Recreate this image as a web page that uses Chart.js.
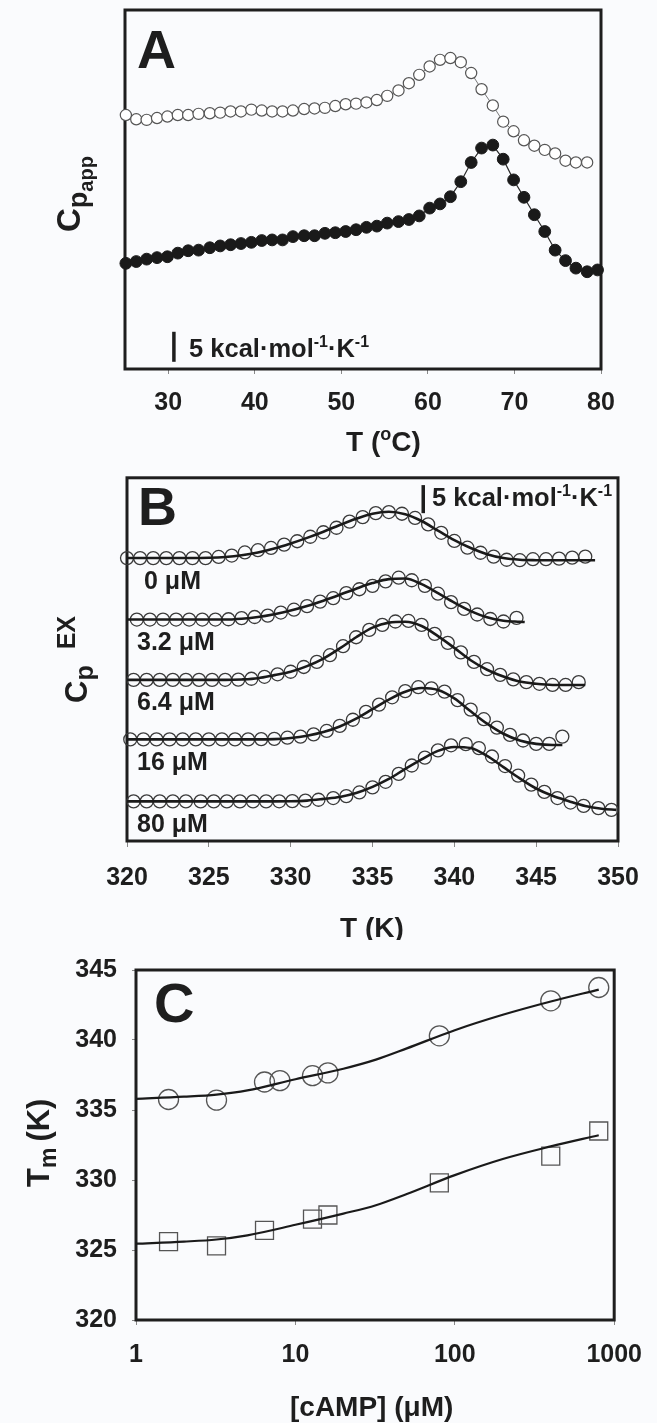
<!DOCTYPE html>
<html><head><meta charset="utf-8">
<script src="https://cdn.jsdelivr.net/npm/chart.js@4.4.1/dist/chart.umd.min.js"></script>
<style>
html,body{margin:0;padding:0;background:#fafbfd;}
body{width:657px;height:1423px;position:relative;overflow:hidden;}
canvas{position:absolute;left:0;}
</style></head><body>
<canvas id="cA" width="657" height="470" style="top:0px"></canvas>
<canvas id="cB" width="657" height="470" style="top:470px"></canvas>
<canvas id="cC" width="657" height="483" style="top:940px"></canvas>
<script>
// ---------------- Panel A : apparent Cp vs T (°C) ----------------
const ticksA = [30, 40, 50, 60, 70, 80];
const tempA_open = [25.1,26.3,27.5,28.7,29.9,31.1,32.3,33.5,34.8,36.0,37.2,38.4,39.6,40.8,42.0,43.2,44.4,45.7,46.9,48.1,49.3,50.5,51.7,52.9,54.1,55.3,56.6,57.8,59.0,60.2,61.4,62.6,63.8,65.0,66.2,67.5,68.7,69.9,71.1,72.3,73.5,74.7,75.9,77.1,78.4];
const cpA_open = [42.3,41.6,41.5,41.8,42.05,42.3,42.3,42.5,42.6,42.7,42.9,42.9,43.2,43.05,42.9,42.9,43.05,43.3,43.4,43.5,43.8,44.1,44.2,44.4,44.8,45.5,46.4,47.6,49.0,50.4,51.5,51.8,51.1,49.3,46.6,43.9,41.2,39.6,38.1,37.2,36.5,35.9,34.7,34.4,34.4];
const tempA_filled = [25.1,26.3,27.5,28.7,29.9,31.1,32.3,33.5,34.8,36.0,37.2,38.4,39.6,40.8,42.0,43.2,44.4,45.7,46.9,48.1,49.3,50.5,51.7,52.9,54.1,55.3,56.6,57.8,59.0,60.2,61.4,62.6,63.8,65.0,66.2,67.5,68.7,69.9,71.1,72.3,73.5,74.7,75.9,77.1,78.4,79.6];
const cpA_filled = [17.6,17.9,18.3,18.55,18.7,19.3,19.7,19.8,20.2,20.5,20.7,20.9,21.1,21.4,21.5,21.5,22.05,22.2,22.2,22.6,22.7,22.9,23.2,23.6,23.8,24.3,24.55,24.9,25.5,26.8,27.5,28.7,31.2,34.4,36.8,37.3,34.95,31.5,28.6,25.7,22.9,19.8,18.05,16.8,16.2,16.5];
const scaleBarA = {t: 30.65, v0: 1.2, len: 5};

// ---------------- Panel B : excess Cp vs T (K) ----------------
const ticksB = [320, 325, 330, 335, 340, 345, 350];
const concLabelsB = ["0 \u03bcM", "3.2 \u03bcM", "6.4 \u03bcM", "16 \u03bcM", "80 \u03bcM"];
const rowOffsetB = [50.4, 39.45, 28.7, 18.1, 7.05];
const tB_0 = [320.0,320.8,321.6,322.4,323.2,324.0,324.8,325.6,326.4,327.2,328.0,328.8,329.6,330.4,331.2,332.0,332.8,333.6,334.4,335.2,336.0,336.8,337.6,338.4,339.2,340.0,340.8,341.6,342.4,343.2,344.0,344.8,345.6,346.4,347.2,348.0];
const cpB_0 = [0,0,0,0,0,0,0,0.2,0.45,1.0,1.4,1.8,2.4,3.0,3.8,4.6,5.4,6.5,7.3,8.0,8.2,7.9,7.15,6.0,4.5,3.05,1.85,0.95,0.25,-0.3,-0.38,-0.2,-0.2,-0.1,0.08,0.26];
const fitT_0 = [320,321,322,323,324,325,326,327,328,329,330,331,332,333,334,335,336,337,338,339,340,341,342,343,344,345,346,347,348,348.6];
const fitB_0 = [0,0,0,0,0.02,0.06,0.2,0.5,1.0,1.7,2.6,3.6,4.7,5.9,7.0,7.9,8.25,7.8,6.6,4.9,3.2,1.8,0.7,0.0,-0.3,-0.38,-0.4,-0.4,-0.4,-0.4];
const tB_32 = [320.6,321.4,322.2,323.0,323.8,324.6,325.4,326.2,327.0,327.8,328.6,329.4,330.2,331.0,331.8,332.6,333.4,334.2,335.0,335.8,336.6,337.4,338.2,339.0,339.8,340.6,341.4,342.2,343.0,343.8];
const cpB_32 = [0,0,0,0,0,0,0,0.05,0.25,0.45,0.7,1.25,1.75,2.4,3.2,3.8,4.7,5.4,6.0,6.8,7.45,7.0,6.0,4.6,3.1,1.9,0.9,0.1,-0.35,0.3];
const fitT_32 = [320,321,322,323,324,325,326,327,328,329,330,331,332,333,334,335,336,337,338,339,340,341,342,343,344,344.3];
const fitB_32 = [0,0,0,0,0,0,0,0.15,0.45,0.95,1.6,2.4,3.35,4.4,5.5,6.5,7.2,7.3,6.3,4.7,3.0,1.5,0.4,-0.2,-0.4,-0.45];
const tB_64 = [320.4,321.2,322.0,322.8,323.6,324.4,325.2,326.0,326.8,327.6,328.4,329.2,330.0,330.8,331.6,332.4,333.2,334.0,334.8,335.6,336.4,337.2,338.0,338.8,339.6,340.4,341.2,342.0,342.8,343.6,344.4,345.2,346.0,346.8,347.6];
const cpB_64 = [0,0,0,0,0,0,0,0.02,0.05,0.2,0.55,1.0,1.45,2.3,3.2,4.4,6.0,7.6,8.9,9.8,10.4,10.5,9.8,8.2,6.6,4.9,3.2,1.9,0.9,0.1,-0.4,-0.7,-0.9,-0.9,-0.4];
const fitT_64 = [320,321,322,323,324,325,326,327,328,329,330,331,332,333,334,335,336,337,338,339,340,341,342,343,344,345,346,347,348];
const fitB_64 = [0,0,0,0,0,0,0,0.08,0.3,0.85,1.45,2.45,3.8,5.6,7.6,9.3,10.2,10.35,9.6,7.8,5.7,3.5,1.8,0.6,-0.3,-0.7,-0.9,-0.9,-0.9];
const tB_16 = [320.2,321.0,321.8,322.6,323.4,324.2,325.0,325.8,326.6,327.4,328.2,329.0,329.8,330.6,331.4,332.2,333.0,333.8,334.6,335.4,336.2,337.0,337.8,338.6,339.4,340.2,341.0,341.8,342.6,343.4,344.2,345.0,345.8,346.6];
const cpB_16 = [0,0,0,0,0,0,0,0,0,0,0.05,0.1,0.3,0.5,0.9,1.5,2.4,3.5,4.9,6.2,7.5,8.6,9.3,9.1,8.5,7.0,5.3,3.6,2.1,0.8,-0.2,-0.8,-0.8,0.5];
const fitT_16 = [320,321,322,323,324,325,326,327,328,329,330,331,332,333,334,335,336,337,338,339,340,341,342,343,344,345,346,346.6];
const fitB_16 = [0,0,0,0,0,0,0,0,0,0.05,0.25,0.65,1.3,2.3,3.7,5.4,7.1,8.5,9.15,8.8,7.3,5.0,2.8,1.0,-0.2,-0.8,-1.0,-1.0];
const tB_80 = [320.4,321.2,322.0,322.8,323.6,324.5,325.3,326.1,326.9,327.7,328.5,329.3,330.1,330.9,331.7,332.6,333.4,334.2,335.0,335.8,336.6,337.4,338.2,339.0,339.8,340.7,341.5,342.3,343.1,343.9,344.7,345.5,346.3,347.1,347.9,348.8,349.6];
const cpB_80 = [0,0,0,0,0,0,0,0,0,0,0,0.02,0.05,0.15,0.3,0.6,0.95,1.6,2.5,3.5,4.9,6.4,7.8,9.1,10.0,10.2,9.5,8.0,6.3,4.6,3.0,1.7,0.6,-0.2,-0.8,-1.2,-1.5];
const fitT_80 = [320,321,322,323,324,325,326,327,328,329,330,331,332,333,334,335,336,337,338,339,340,341,342,343,344,345,346,347,348,349,349.9];
const fitB_80 = [0,0,0,0,0,0,0,0,0,0,0.02,0.15,0.45,0.8,1.5,2.6,4.0,5.8,7.5,9.0,9.7,9.5,8.1,6.1,4.1,2.3,1.0,0.05,-0.8,-1.3,-1.5];
const scaleBarB = {t: 338.1, v0: 58.4, len: 5};

// ---------------- Panel C : Tm vs [cAMP] ----------------
const ticksC_x = [1, 10, 100, 1000];
const ticksC_y = [320, 325, 330, 335, 340, 345];
const campCirc = [1.6, 3.2, 6.4, 8, 12.8, 16, 80, 400, 800];
const tmCirc = [335.75, 335.7, 337.0, 337.1, 337.45, 337.65, 340.3, 342.8, 343.75];
const campSq = [1.6, 3.2, 6.4, 12.8, 16, 80, 400, 800];
const tmSq = [325.6, 325.3, 326.4, 327.2, 327.5, 329.8, 331.7, 333.5];
const fitCamp = [1, 2, 3.2, 5, 10, 20, 32, 50, 100, 200, 400, 800];
const fitCirc = [335.8, 335.95, 336.1, 336.4, 337.2, 337.95, 338.6, 339.4, 340.7, 341.8, 342.75, 343.6];
const fitSq = [325.45, 325.6, 325.75, 326.05, 326.8, 327.6, 328.2, 329.0, 330.35, 331.5, 332.4, 333.2];

// ---------------- helpers ----------------
const FONT = '"Liberation Sans", Arial, Helvetica, sans-serif';
const INK = '#1e1e1e';
Chart.defaults.font.family = FONT;
Chart.defaults.font.weight = 'bold';
Chart.defaults.font.size = 25;
Chart.defaults.color = INK;
Chart.defaults.animation = false;
Chart.defaults.responsive = false;
Chart.defaults.maintainAspectRatio = false;
Chart.defaults.devicePixelRatio = 1;
Chart.defaults.plugins.legend.display = false;
Chart.defaults.plugins.tooltip.enabled = false;

function pts(xs, ys, off) {
  const n = Math.min(xs.length, ys.length);
  const out = [];
  for (let i = 0; i < n; i++) out.push({x: xs[i], y: ys[i] + (off || 0)});
  return out;
}
function rich(ctx, parts, x, y) {
  let cx = x;
  for (const p of parts) {
    ctx.font = 'bold ' + p.size + 'px ' + FONT;
    ctx.fillText(p.t, cx, y + (p.dy || 0));
    cx += ctx.measureText(p.t).width + (p.gap || 0);
  }
  return cx - x;
}
const framePlugin = {
  id: 'frame',
  beforeDatasetsDraw(chart) {
    const a = chart.chartArea, ctx = chart.ctx;
    ctx.save();
    ctx.strokeStyle = INK; ctx.lineWidth = 3;
    ctx.strokeRect(a.left, a.top, a.right - a.left, a.bottom - a.top);
    ctx.restore();
  }
};
function setTicks(list) { return s => { s.ticks = list.map(v => ({value: v})); }; }
const tickGrid = len => ({drawOnChartArea: false, drawTicks: true, tickLength: len, color: '#888', lineWidth: 1});
const unitParts = [{t: '5 kcal\u00b7mol', size: 25.5}, {t: '-1', size: 16, dy: -10}, {t: '\u00b7K', size: 25.5}, {t: '-1', size: 16, dy: -10}];

// ---------------- Chart A ----------------
new Chart(document.getElementById('cA'), {
  type: 'line',
  data: { datasets: [
    { data: pts(tempA_filled, cpA_filled), borderColor: '#2a2a2a', borderWidth: 1.2, pointRadius: 5.9,
      pointBackgroundColor: '#1a1a1a', pointBorderColor: '#1a1a1a', pointBorderWidth: 1, clip: false },
    { data: pts(tempA_open, cpA_open), borderColor: '#777', borderWidth: 1, pointRadius: 5.6,
      pointBackgroundColor: '#fff', pointBorderColor: '#555', pointBorderWidth: 1.2, clip: false }
  ]},
  options: {
    layout: { padding: { left: 125, right: 56, top: 10, bottom: 0 } },
    scales: {
      x: { type: 'linear', min: 25, max: 80, afterBuildTicks: setTicks(ticksA),
           ticks: { padding: 14 }, grid: tickGrid(5), border: { display: false },
           afterFit: s => { s.height = 101; } },
      y: { type: 'linear', display: false, min: 0, max: 59.8 }
    }
  },
  plugins: [framePlugin, {
    id: 'annA',
    afterDraw(chart) {
      const ctx = chart.ctx, xs = chart.scales.x, ys = chart.scales.y;
      ctx.save(); ctx.fillStyle = INK; ctx.strokeStyle = INK; ctx.textBaseline = 'alphabetic';
      ctx.font = 'bold 54px ' + FONT; ctx.fillText('A', 137, 68);
      const bx = xs.getPixelForValue(scaleBarA.t);
      ctx.lineWidth = 3.5; ctx.beginPath();
      ctx.moveTo(bx, ys.getPixelForValue(scaleBarA.v0));
      ctx.lineTo(bx, ys.getPixelForValue(scaleBarA.v0 + scaleBarA.len)); ctx.stroke();
      rich(ctx, unitParts, 189, 357);
      rich(ctx, [{t: 'T (', size: 28}, {t: 'o', size: 18, dy: -11}, {t: 'C)', size: 28}], 346, 451);
      ctx.translate(80, 232); ctx.rotate(-Math.PI / 2);
      rich(ctx, [{t: 'C', size: 33}, {t: 'p', size: 27, dy: 7}, {t: 'app', size: 20, dy: 13}], 0, 0);
      ctx.restore();
    }
  }]
});

// ---------------- Chart B ----------------
const rowsB = [
  [tB_0, cpB_0, fitT_0, fitB_0], [tB_32, cpB_32, fitT_32, fitB_32], [tB_64, cpB_64, fitT_64, fitB_64],
  [tB_16, cpB_16, fitT_16, fitB_16], [tB_80, cpB_80, fitT_80, fitB_80]
];
const dsB = [];
rowsB.forEach((r, i) => {
  dsB.push({ data: pts(r[2], r[3], rowOffsetB[i]), borderColor: '#1a1a1a', borderWidth: 2.6, pointRadius: 0,
             cubicInterpolationMode: 'monotone', clip: false, order: 0 });
});
rowsB.forEach((r, i) => {
  dsB.push({ data: pts(r[0], r[1], rowOffsetB[i]), showLine: false, pointRadius: 6.5, pointBorderWidth: 1.3,
             pointBorderColor: '#3a3a3a', pointBackgroundColor: 'rgba(0,0,0,0)', clip: false, order: 1 });
});
new Chart(document.getElementById('cB'), {
  type: 'line',
  data: { datasets: dsB },
  options: {
    layout: { padding: { left: 127, right: 39, top: 4, bottom: 0 } },
    scales: {
      x: { type: 'linear', min: 320, max: 350, afterBuildTicks: setTicks(ticksB),
           ticks: { padding: 16 }, grid: tickGrid(6), border: { display: false },
           afterFit: s => { s.height = 99; } },
      y: { type: 'linear', display: false, min: 0, max: 64.7 }
    }
  },
  plugins: [framePlugin, {
    id: 'annB',
    afterDraw(chart) {
      const ctx = chart.ctx, xs = chart.scales.x, ys = chart.scales.y;
      ctx.save(); ctx.fillStyle = INK; ctx.strokeStyle = INK; ctx.textBaseline = 'alphabetic';
      ctx.font = 'bold 54px ' + FONT; ctx.fillText('B', 138, 55);
      const bx = xs.getPixelForValue(scaleBarB.t);
      ctx.lineWidth = 3.5; ctx.beginPath();
      ctx.moveTo(bx, ys.getPixelForValue(scaleBarB.v0));
      ctx.lineTo(bx, ys.getPixelForValue(scaleBarB.v0 + scaleBarB.len)); ctx.stroke();
      rich(ctx, unitParts, 432, 36);
      concLabelsB.forEach((lab, i) => {
        const y = ys.getPixelForValue(rowOffsetB[i]) + 21.5 + 9;
        ctx.font = 'bold 25px ' + FONT;
        ctx.fillText(lab, i === 0 ? 144 : 137, y);
      });
      rich(ctx, [{t: 'T (K)', size: 28}], 340, 467);
      ctx.translate(87, 233); ctx.rotate(-Math.PI / 2);
      rich(ctx, [{t: 'C', size: 31}, {t: 'p', size: 25, dy: 6, gap: 16}, {t: 'EX', size: 25, dy: -12}], 0, 0);
      ctx.restore();
    }
  }]
});

// ---------------- Chart C ----------------
new Chart(document.getElementById('cC'), {
  type: 'line',
  data: { datasets: [
    { data: pts(fitCamp, fitCirc), borderColor: '#1a1a1a', borderWidth: 2.2, pointRadius: 0, cubicInterpolationMode: 'monotone', clip: false },
    { data: pts(fitCamp, fitSq), borderColor: '#1a1a1a', borderWidth: 2.2, pointRadius: 0, cubicInterpolationMode: 'monotone', clip: false },
    { data: pts(campCirc, tmCirc), showLine: false, pointStyle: 'circle', pointRadius: 10, pointBorderWidth: 1.3,
      pointBorderColor: '#555', pointBackgroundColor: 'rgba(0,0,0,0)', clip: false },
    { data: pts(campSq, tmSq), showLine: false, pointStyle: 'rect', pointRadius: 12.7, pointBorderWidth: 1.3,
      pointBorderColor: '#555', pointBackgroundColor: 'rgba(0,0,0,0)', clip: false }
  ]},
  options: {
    layout: { padding: { left: 0, right: 38, top: 17, bottom: 0 } },
    scales: {
      x: { type: 'logarithmic', min: 1, max: 1000, afterBuildTicks: setTicks(ticksC_x),
           ticks: { padding: 15, callback: v => String(v) }, grid: tickGrid(5), border: { display: false },
           afterFit: s => { s.height = 103; } },
      y: { type: 'linear', min: 320, max: 345, afterBuildTicks: setTicks(ticksC_y),
           ticks: { padding: 15 }, grid: tickGrid(4), border: { display: false },
           afterFit: s => { s.width = 136; } }
    }
  },
  plugins: [framePlugin, {
    id: 'annC',
    afterDraw(chart) {
      const ctx = chart.ctx;
      ctx.save(); ctx.fillStyle = INK; ctx.textBaseline = 'alphabetic';
      ctx.font = 'bold 56px ' + FONT; ctx.fillText('C', 154, 82);
      rich(ctx, [{t: '[cAMP] (\u03bcM)', size: 28}], 290, 476);
      ctx.translate(49, 247); ctx.rotate(-Math.PI / 2);
      rich(ctx, [{t: 'T', size: 31}, {t: 'm', size: 23, dy: 7, gap: 6}, {t: '(K)', size: 31}], 0, 0);
      ctx.restore();
    }
  }]
});
</script>
</body></html>
